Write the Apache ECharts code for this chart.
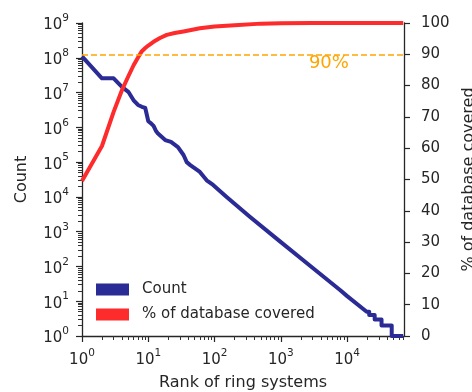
<!DOCTYPE html>
<html>
<head>
<meta charset="utf-8">
<script src="https://cdn.jsdelivr.net/npm/echarts@6/dist/echarts.min.js"></script>
<style>
  html, body { margin: 0; padding: 0; background: #fff; }
  #chart { width: 472px; height: 392px; }
</style>
</head>
<body>
<div id="chart"></div>
<script>
// Number of occurrences per ring system, by rank (log-log)
const countPoints = [
  [1, 1.1e8], [2, 2.57e7], [3, 2.57e7], [4, 1.46e7], [5, 1.05e7],
  [6, 6.0e6], [7, 4.4e6], [8, 3.9e6], [9, 3.6e6], [10, 1.5e6],
  [11, 1.3e6], [12, 1.1e6], [13, 8.0e5], [14, 6.6e5], [15, 6.4e5],
  [18, 4.3e5], [22, 3.8e5], [28, 2.7e5], [34, 1.6e5], [38, 1.0e5],
  [43, 8.2e4], [60, 5.2e4], [76, 3.0e4], [95, 2.2e4], [152, 1.0e4],
  [340, 2.7e3], [1000, 500], [3000, 92], [7800, 21], [10000, 14],
  [19700, 5], [21500, 5], [21500, 4], [26000, 4], [26000, 3],
  [33000, 3], [33000, 2], [47000, 2], [47000, 1], [70000, 1]
];

// Cumulative share of the database covered by the top-ranked systems (%)
const coveragePoints = [
  [1, 49.5], [2, 60.7], [3, 71.6], [4, 78.5], [5, 83.0],
  [6, 86.5], [7, 89.0], [8, 91.0], [9, 92.0], [10, 92.8],
  [12, 94.0], [15, 95.2], [19, 96.2], [25, 96.8], [34, 97.3],
  [60, 98.3], [100, 98.9], [200, 99.3], [500, 99.8], [1000, 99.9],
  [3000, 100], [70000, 100]
];

const xMajorTicks = [1, 10, 100, 1000, 10000];
const countMajorTicks = [1, 10, 100, 1e3, 1e4, 1e5, 1e6, 1e7, 1e8, 1e9];
const pctTicks = [0, 10, 20, 30, 40, 50, 60, 70, 80, 90, 100];
const thresholdPct = 90;
const thresholdText = '90%';
const thresholdTextAt = [5300, 87];

const rankRange = [1, 72000];
const countRange = [1, 1e9];

// 2..9 × 10^k between the axis ends
function minorTicks(lo, hi) {
  const out = [];
  for (let d = lo; d < hi; d *= 10) {
    for (let m = 2; m <= 9; m++) {
      const v = m * d;
      if (v < hi) out.push(v);
    }
  }
  return out;
}

// "10" with the exponent as a raised, smaller token
function powLabel(v) {
  const e = Math.log10(v);
  const r = Math.round(e);
  if (Math.abs(e - r) > 1e-6) return '';
  return '{b|10}{s|' + r + '}';
}

const FONT = 'DejaVu Sans';
const INK = '#262626';
const BLUE = '#2b2b96';
const RED = '#fd2b2b';
const ORANGE = '#ffa500';

const powRich = {
  b: { fontFamily: FONT, fontSize: 15, color: INK, lineHeight: 20, verticalAlign: 'bottom' },
  s: { fontFamily: FONT, fontSize: 10.5, color: INK, lineHeight: 13, verticalAlign: 'top' }
};

const chart = echarts.init(document.getElementById('chart'), null, { renderer: 'canvas' });

const axisLineStyle = { color: INK, width: 1.3 };
const minorTickStyle = { color: '#333', width: 1 };

chart.setOption({
  animation: false,
  backgroundColor: '#fff',
  textStyle: { fontFamily: FONT },
  grid: { left: 82, right: 68, top: 23, bottom: 56, containLabel: false, outerBoundsMode: 'none' },
  legend: {
    data: ['Count', '% of database covered'],
    orient: 'vertical',
    left: 96, top: 282, padding: 0,
    icon: 'rect',
    itemWidth: 33, itemHeight: 12, itemGap: 10,
    textStyle: { fontFamily: FONT, fontSize: 15, color: INK, padding: [0, 0, 0, 8] }
  },
  xAxis: [
    {
      type: 'log', logBase: 10, min: rankRange[0], max: rankRange[1], position: 'bottom',
      name: 'Rank of ring systems', nameLocation: 'middle', nameGap: 39,
      nameTextStyle: { fontFamily: FONT, fontSize: 16, color: INK },
      axisLine: { show: true, lineStyle: axisLineStyle },
      axisTick: { show: true, length: 6, customValues: xMajorTicks, lineStyle: { color: INK, width: 1.2 } },
      axisLabel: { customValues: xMajorTicks, formatter: powLabel, rich: powRich, margin: 12 },
      splitLine: { show: false }
    },
    {
      type: 'log', logBase: 10, min: rankRange[0], max: rankRange[1], position: 'bottom',
      axisLine: { show: false },
      axisTick: { show: true, length: 4, customValues: minorTicks(1, 72000), lineStyle: minorTickStyle },
      axisLabel: { show: false },
      splitLine: { show: false }
    }
  ],
  yAxis: [
    {
      type: 'log', logBase: 10, min: countRange[0], max: countRange[1], position: 'left',
      name: 'Count', nameLocation: 'middle', nameGap: 52,
      nameTextStyle: { fontFamily: FONT, fontSize: 16, color: INK },
      axisLine: { show: true, lineStyle: axisLineStyle },
      axisTick: { show: true, length: 6, customValues: countMajorTicks, lineStyle: { color: INK, width: 1.2 } },
      axisLabel: { customValues: countMajorTicks, formatter: powLabel, rich: powRich, margin: 13 },
      splitLine: { show: false }
    },
    {
      type: 'value', min: 0, max: 100, interval: 10, position: 'right',
      name: '% of database covered', nameLocation: 'middle', nameGap: 48,
      nameTextStyle: { fontFamily: FONT, fontSize: 16, color: INK },
      axisLine: { show: true, lineStyle: axisLineStyle },
      axisTick: { show: true, length: 6, customValues: pctTicks, lineStyle: { color: INK, width: 1.2 } },
      axisLabel: { customValues: pctTicks, fontFamily: FONT, fontSize: 15, color: INK, margin: 17 },
      splitLine: { show: false }
    },
    {
      type: 'log', logBase: 10, min: countRange[0], max: countRange[1], position: 'left',
      axisLine: { show: false },
      axisTick: { show: true, length: 4, customValues: minorTicks(1, 1e9), lineStyle: minorTickStyle },
      axisLabel: { show: false },
      splitLine: { show: false }
    }
  ],
  series: [
    {
      name: 'Count', type: 'line', xAxisIndex: 0, yAxisIndex: 0,
      data: countPoints, showSymbol: false, symbol: 'none',
      color: BLUE,
      lineStyle: { color: BLUE, width: 4, join: 'round' },
      z: 3
    },
    {
      name: '% of database covered', type: 'line', xAxisIndex: 0, yAxisIndex: 1,
      data: coveragePoints, showSymbol: false, symbol: 'none',
      color: RED,
      lineStyle: { color: RED, width: 4, join: 'round' },
      z: 4,
      markLine: {
        silent: true, symbol: 'none',
        label: { show: false },
        lineStyle: { color: ORANGE, width: 1.5, type: [6, 3] },
        data: [{ yAxis: thresholdPct }]
      },
      markPoint: {
        silent: true, symbol: 'circle', symbolSize: 0,
        label: { show: true, position: 'inside', formatter: thresholdText, fontFamily: FONT, fontSize: 18, color: ORANGE },
        data: [{ coord: thresholdTextAt }]
      }
    }
  ]
});
</script>
</body>
</html>
